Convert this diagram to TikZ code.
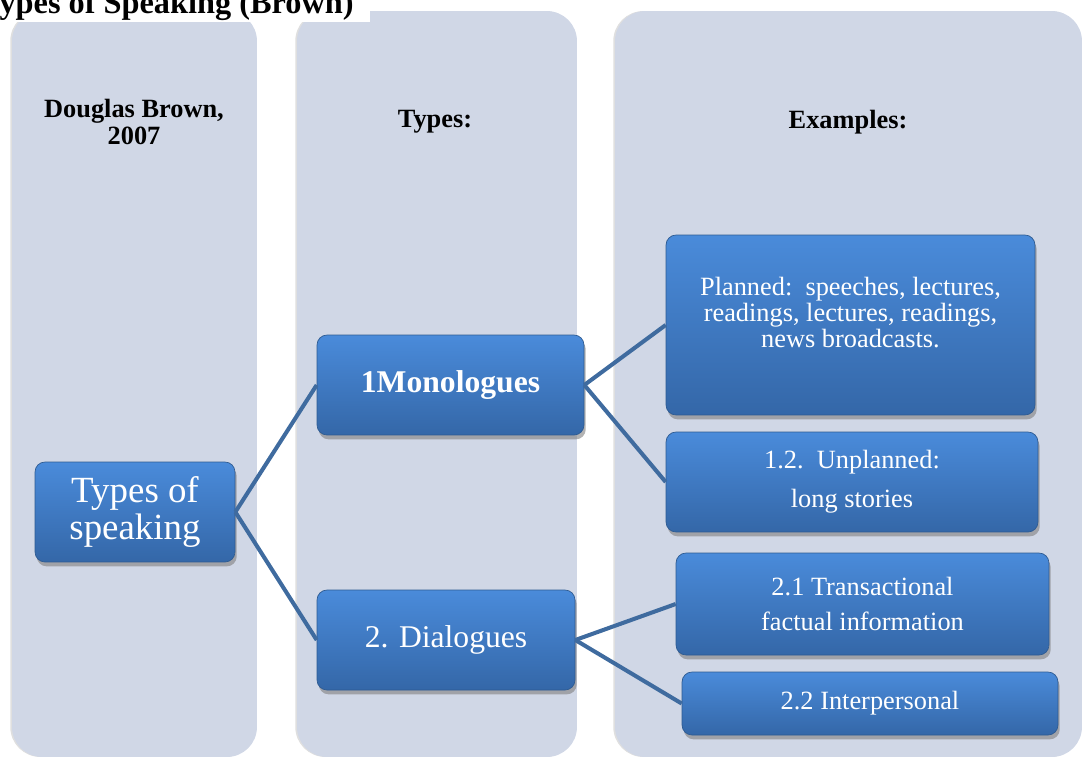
\documentclass[tikz,border=0pt]{standalone}
\usepackage{fontspec}
\setmainfont{Liberation Serif}
\usetikzlibrary{positioning,shadows}
\definecolor{panelgray}{HTML}{D0D7E6}
\definecolor{blktop}{HTML}{4A8BDA}
\definecolor{blkbot}{HTML}{3467A8}
\definecolor{blkline}{HTML}{2E5B92}
\definecolor{linkblue}{HTML}{3F6B9F}

\begin{document}
\begin{tikzpicture}[x=0.02cm,y=-0.02cm,
   panel/.style={rectangle,rounded corners=0.6cm,fill=panelgray,inner sep=0pt,
      drop shadow={shadow xshift=-1pt,shadow yshift=0pt,opacity=.25}},
   blk/.style={rectangle,rounded corners=0.2cm,top color=blktop,bottom color=blkbot,
      draw=blkline,line width=0.4pt,text=white,align=center,inner sep=0pt,
      drop shadow={shadow xshift=1pt,shadow yshift=-2.5pt,opacity=.6}},
   head/.style={align=center,font=\fontsize{15}{15.3}\selectfont\bfseries},
   link/.style={draw=linkblue,line width=2.3pt}] 
   \useasboundingbox (0,0) rectangle (1082,758);
   % columns
   \node[panel,minimum width=4.9cm,minimum height=14.92cm] (col1) at (134.5,384) {};
   \node[panel,minimum width=5.6cm,minimum height=14.92cm] (col2) at (437,384) {};
   \node[panel,minimum width=9.34cm,minimum height=14.92cm] (col3) at (848.5,384) {};
   \node[head] (auth) at (134,122) {Douglas Brown,\\2007};
   \node[head] (types) at (435,122) {Types:};
   \node[head] (exam) at (848,122) {Examples:};
   % title
   \fill[white] (0,0) rectangle (370,22);
   \node[anchor=base west,inner sep=0pt,font=\fontsize{18.4}{20}\selectfont\bfseries] (title) at (-20,13) {Types of Speaking (Brown)};
   % boxes
   \node[blk,minimum width=4cm,minimum height=2cm,font=\fontsize{21}{21}\selectfont] (root) at (135,512) {Types of\\speaking};
   \node[blk,minimum width=5.34cm,minimum height=2cm,font=\fontsize{18}{20}\selectfont\bfseries] (mono) at (450.5,385) {1Monologues};
   \node[blk,minimum width=5.16cm,minimum height=2cm,font=\fontsize{18}{20}\selectfont] (dia) at (446,640) {2. Dialogues};
   \node[blk,minimum width=7.38cm,minimum height=3.6cm,font=\fontsize{15}{14.7}\selectfont] (plan) at (850.5,325) {Planned:\ \ speeches, lectures,\\readings, lectures, readings,\\news broadcasts.\\\phantom{x}};
   \node[blk,minimum width=7.44cm,minimum height=2cm,font=\fontsize{15}{22}\selectfont] (unplan) at (852,482) {1.2.\ \ Unplanned:\\long stories};
   \node[blk,minimum width=7.46cm,minimum height=2.04cm,font=\fontsize{15}{20}\selectfont] (trans) at (862.5,604) {2.1 Transactional\\factual information};
   \node[blk,minimum width=7.52cm,minimum height=1.26cm,font=\fontsize{15}{18}\selectfont] (inter) at (870,703.5) {2.2 Interpersonal};
   % links
   \path[link]
    (root.east) edge (mono.west)
    (root.east) edge (dia.west)
    (mono.east) edge (plan.west)
    (mono.east) edge (unplan.west)
    (dia.east) edge (trans.west)
    (dia.east) edge (inter.west);
\end{tikzpicture}
\end{document}
